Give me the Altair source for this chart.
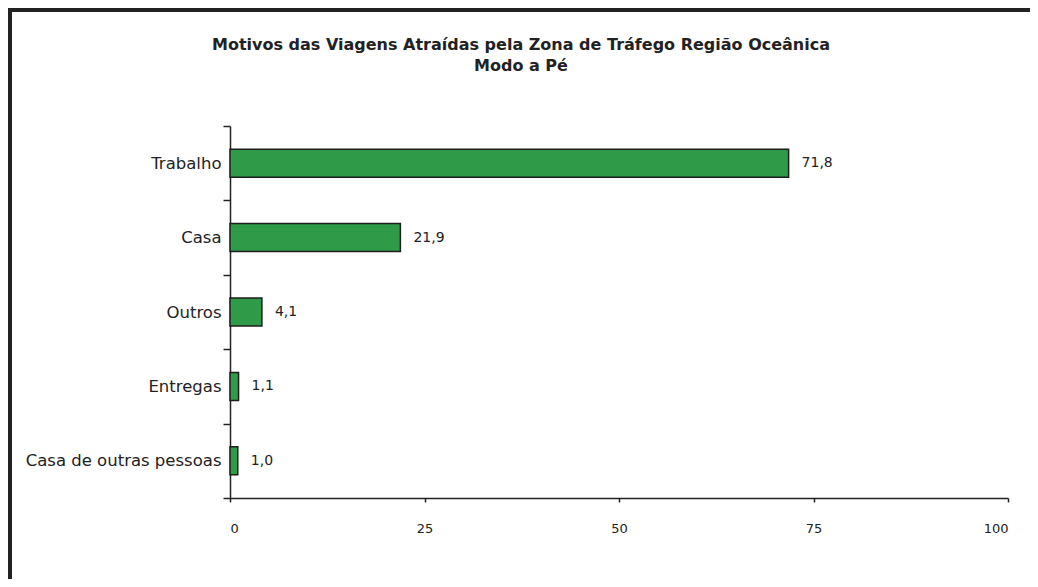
import altair as alt
import pandas as pd

categories = ["Trabalho", "Casa", "Outros", "Entregas", "Casa de outras pessoas"]
values = [71.8, 21.9, 4.1, 1.1, 1.0]
value_labels = ["71,8", "21,9", "4,1", "1,1", "1,0"]
x_ticks = [0, 25, 50, 75, 100]
title_lines = ["Motivos das Viagens Atraídas pela Zona de Tráfego Região Oceânica", "Modo a Pé"]

df = pd.DataFrame({"cat": categories, "val": values, "lab": value_labels})

FONT = "DejaVu Sans"
W, H = 778, 372

y_enc = alt.Y("cat:N", sort=categories, title=None,
              scale=alt.Scale(paddingInner=0, paddingOuter=0),
              axis=alt.Axis(tickBand="extent", tickSize=7, labelPadding=2,
                            labelLimit=400,
                            labelFont=FONT, labelFontSize=16.5, labelColor="#222",
                            domainColor="#222", tickColor="#222", domainWidth=1.5,
                            tickWidth=1.5, grid=False))
x_enc = alt.X("val:Q", title=None,
              scale=alt.Scale(domain=[0, 100], nice=False),
              axis=alt.Axis(values=x_ticks, tickSize=4, labelPadding=20,
                            labelFont=FONT, labelFontSize=13, labelColor="#222",
                            domainColor="#222", tickColor="#222", domainWidth=1.5,
                            tickWidth=1.5, grid=False))

bars = alt.Chart(df).mark_bar(size=28, color="#2f9a47", stroke="#1e1e1e",
                              strokeWidth=1.5).encode(x=x_enc, y=y_enc)

labels = alt.Chart(df).mark_text(align="left", baseline="middle", dx=13,
                                 font=FONT, fontSize=14, color="#222").encode(
    x="val:Q", y=alt.Y("cat:N", sort=categories), text="lab:N")

frame = alt.Chart(df).mark_rect(fill=None, stroke="#222", strokeWidth=4).encode(
    x=alt.value(-220), x2=alt.value(820), y=alt.value(-116), y2=alt.value(480))

title_df = pd.DataFrame({"t": title_lines, "row": [0, 1]})
title1 = alt.Chart(title_df).transform_filter("datum.row == 0").mark_text(
    font=FONT, fontSize=16, fontWeight="bold", color="#222", align="center",
    baseline="middle"
).encode(text="t:N", x=alt.value(291), y=alt.value(-81))
title2 = alt.Chart(title_df).transform_filter("datum.row == 1").mark_text(
    font=FONT, fontSize=16, fontWeight="bold", color="#222", align="center",
    baseline="middle"
).encode(text="t:N", x=alt.value(291), y=alt.value(-60))

chart = alt.layer(frame, bars, labels, title1, title2).properties(
    width=W, height=H,
    autosize=alt.AutoSizeParams(type="none"),
    padding={"left": 222, "top": 118, "right": 22, "bottom": 81},
).configure_view(stroke=None)

chart.save("out.html", embed_options={"renderer": "svg", "actions": False})
